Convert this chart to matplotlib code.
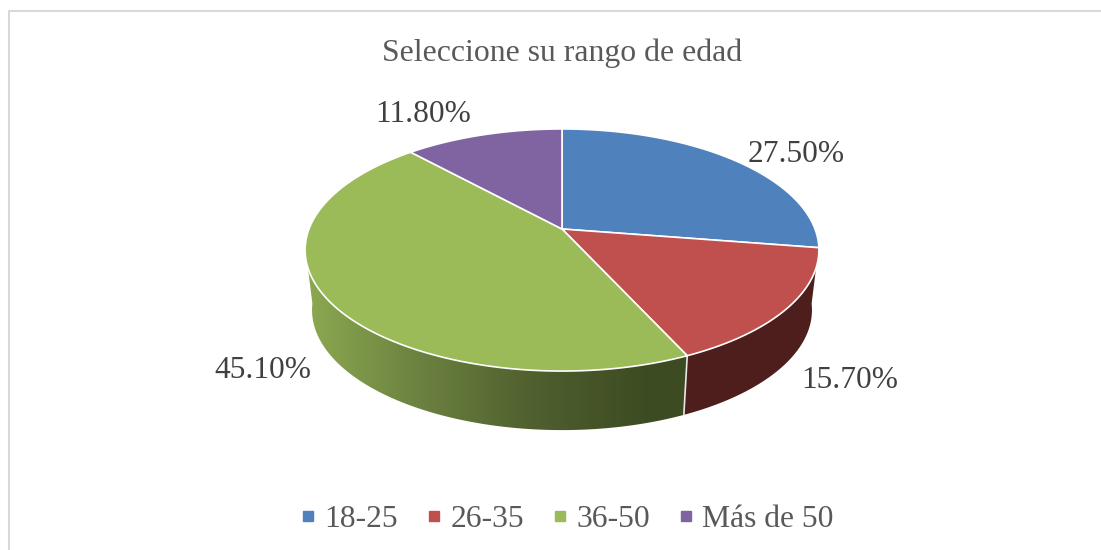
import numpy as np
import matplotlib
matplotlib.use('Agg')
import matplotlib.pyplot as plt
from matplotlib.colors import LinearSegmentedColormap
from matplotlib.lines import Line2D
from matplotlib.patches import Polygon

title = "Seleccione su rango de edad"
categories = ["18-25", "26-35", "36-50", "Más de 50"]
shares = [27.5, 15.7, 45.1, 11.8]
colors = ["#4F81BD", "#C0504D", "#9BBB59", "#8064A2"]

plt.rcParams['font.family'] = ['Liberation Serif', 'DejaVu Serif']
FONT = 22.6
TEXT = '#595959'


def top_rim(theta):
    # perspective view of the pie disc, theta in degrees clockwise from 12 o'clock
    t = np.radians(theta)
    den = 1 + 0.1736 * np.cos(t)
    return 562 + 253 * np.sin(t) / den, 229 - 117.4 * np.cos(t) / den


def bottom_rim(theta):
    x, y = top_rim(theta)
    return 562 + (x - 562) * 0.973, 310 + (y - 250) * 0.992


def side_poly(a, b, a2, b2):
    # a, b on the top rim and a2, b2 on the bottom one, so the outer edge stays curved
    x1, y1 = top_rim(np.linspace(a, b, 120))
    x2, y2 = bottom_rim(np.linspace(b2, a2, 120))
    return np.column_stack([np.r_[x1, x2], np.r_[y1, y2]])


fig = plt.figure(figsize=(11.01, 5.5), dpi=100, facecolor='white')
ax = fig.add_axes([0, 0, 1, 1])

# chart frame
ax.plot([8.5, 8.5, 1101], [550, 10.5, 10.5], color='#d9d9d9', lw=1.5, zorder=1)

edges = np.r_[0, np.cumsum(shares)] / sum(shares) * 360

# side walls, only the front part of the rim shows
red_side = Polygon(side_poly(108.3, edges[2], 97, edges[2]), fc='#4D1E1C', ec='none', zorder=2)
ax.add_patch(red_side)

green_cmap = LinearSegmentedColormap.from_list('side', ['#8CA950', '#6B8140', '#4F5F2E', '#3D4B22'])
grad = np.linspace(0, 1, 256).reshape(1, -1)
green_side = Polygon(side_poly(edges[2], 251.7, edges[2], 263), fc='none', ec='none', zorder=2)
ax.add_patch(green_side)
im = ax.imshow(grad, cmap=green_cmap, extent=[306, 650, 440, 240], aspect='auto', zorder=2)
# flat dark part right of the gradient
ax.imshow(np.ones((1, 1)), cmap=LinearSegmentedColormap.from_list('d', ['#3D4B22', '#3D4B22']),
          extent=[650, 700, 440, 240], aspect='auto', zorder=2).set_clip_path(green_side)
im.set_clip_path(green_side)

# seam between green and red wall
sx = [top_rim(edges[2])[0], bottom_rim(edges[2])[0]]
sy = [top_rim(edges[2])[1], bottom_rim(edges[2])[1]]
ax.plot(sx, sy, color='#e8e8e8', lw=1.2, zorder=3)

# top face
for i, c in enumerate(colors):
    th = np.linspace(edges[i], edges[i + 1], 200)
    x, y = top_rim(th)
    cx, cy = top_rim(0)[0], 229
    pts = np.column_stack([np.r_[cx, x], np.r_[cy, y]])
    ax.add_patch(Polygon(pts, fc=c, ec='white', lw=1.2, joinstyle='round', zorder=4))

# data labels
label_x = [796, 850, 263, 423]
label_y = [154.5, 380.5, 370.5, 114.5]
for v, lx, ly in zip(shares, label_x, label_y):
    ax.text(lx, ly, f"{v:.2f}%", fontsize=FONT, color='#404040', ha='center', va='center', zorder=5)

ax.text(562, 53, title, fontsize=22.9, color=TEXT, ha='center', va='center')

handles = [Line2D([], [], ls='none', marker='s', ms=7.5, mfc=c, mec=c, label=n)
           for c, n in zip(colors, categories)]
ax.legend(handles=handles, loc='center', bbox_to_anchor=(567, 519), bbox_transform=ax.transData,
          ncol=4, frameon=False, fontsize=22.8, labelcolor=TEXT, handlelength=0.5,
          handletextpad=0.28, columnspacing=0.87, borderpad=0, borderaxespad=0)

ax.set_xlim(0, 1101)
ax.set_ylim(550, 0)
ax.axis('off')

fig.savefig('out.png', dpi=100)
